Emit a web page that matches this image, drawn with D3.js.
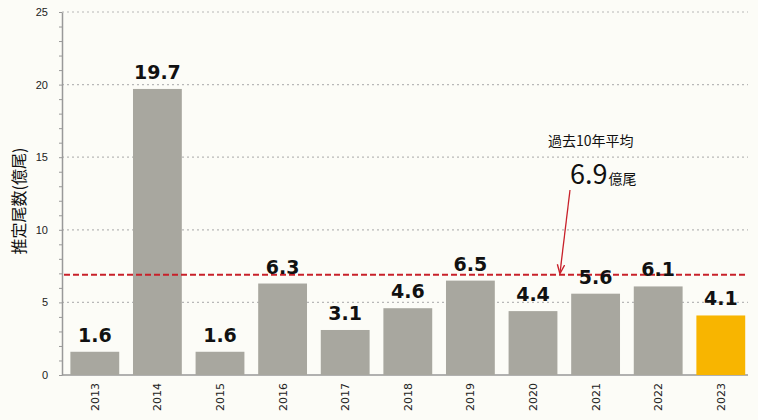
<!DOCTYPE html>
<html lang="ja">
<head>
    <meta charset="UTF-8">
    <title>推定尾数</title>
    <style>
        body { margin: 0; background: #fcfcf7; }
        svg { display: block; font-family: "DejaVu Sans", sans-serif; }
        .grid line { stroke: #b8b8b8; stroke-width: 1.2; stroke-dasharray: 2 3; }
        .bar-label { font-weight: bold; font-size: 19px; fill: #111; text-anchor: middle; }
        .tick text { fill: #222; }
    </style>
</head>
<body>
    <svg width="758" height="420"></svg>
    <script src="https://d3js.org/d3.v7.min.js"></script>
    <script>
        const years = ["2013", "2014", "2015", "2016", "2017", "2018", "2019", "2020", "2021", "2022", "2023"];
        const counts = [1.6, 19.7, 1.6, 6.3, 3.1, 4.6, 6.5, 4.4, 5.6, 6.1, 4.1];
        const yTicks = [0, 5, 10, 15, 20, 25];
        const average = 6.9;

        const svg = d3.select("svg");
        const plotLeft = 62, plotRight = 748, plotTop = 12, plotBottom = 375;

        const x = d3.scaleBand()
            .domain(years)
            .range([plotLeft, 753.6])
            .paddingInner(0.22)
            .paddingOuter(0.134);

        const y = d3.scaleLinear()
            .domain([0, 25])
            .range([plotBottom, plotTop]);

        // dotted gridlines
        svg.append("g")
            .attr("class", "grid")
            .selectAll("line")
            .data(yTicks.slice(1))
            .enter()
            .append("line")
            .attr("x1", plotLeft)
            .attr("x2", plotRight)
            .attr("y1", d => y(d))
            .attr("y2", d => y(d));

        // minor ticks on the y axis
        svg.append("g")
            .attr("transform", `translate(${plotLeft},0)`)
            .call(d3.axisLeft(y).ticks(25).tickSize(3).tickFormat(""))
            .call(g => g.select(".domain").remove())
            .selectAll("line").attr("stroke", "#999");

        // y axis
        svg.append("g")
            .attr("transform", `translate(${plotLeft},0)`)
            .call(d3.axisLeft(y).tickValues(yTicks).tickSize(0).tickPadding(14))
            .call(g => g.select(".domain").attr("stroke", "#999").attr("stroke-width", 1.5))
            .selectAll("text")
            .attr("font-size", 11)
            .attr("font-family", "Liberation Sans, sans-serif");

        // baseline
        svg.append("line")
            .attr("x1", plotLeft)
            .attr("x2", plotRight)
            .attr("y1", y(0))
            .attr("y2", y(0))
            .attr("stroke", "#999")
            .attr("stroke-width", 1.5);

        // bars
        svg.selectAll(".bar")
            .data(counts)
            .enter()
            .append("rect")
            .attr("class", "bar")
            .attr("x", (d, i) => x(years[i]))
            .attr("y", d => y(d))
            .attr("width", x.bandwidth())
            .attr("height", d => y(0) - y(d))
            .attr("fill", (d, i) => i === years.length - 1 ? "#f8b500" : "#a8a79f");

        // average line
        svg.append("line")
            .attr("x1", plotLeft + 2)
            .attr("x2", plotRight)
            .attr("y1", y(average))
            .attr("y2", y(average))
            .attr("stroke", "#c8202a")
            .attr("stroke-width", 2)
            .attr("stroke-dasharray", "6 3");

        // value labels
        svg.selectAll(".bar-label")
            .data(counts)
            .enter()
            .append("text")
            .attr("class", "bar-label")
            .attr("x", (d, i) => x(years[i]) + x.bandwidth() / 2)
            .attr("y", d => y(d) - 10)
            .text(d => d.toFixed(1));

        // year labels
        svg.selectAll(".year")
            .data(years)
            .enter()
            .append("text")
            .attr("class", "year")
            .attr("transform", d => `translate(${x(d) + x.bandwidth() / 2 + 4},${plotBottom + 8}) rotate(-90)`)
            .attr("text-anchor", "end")
            .attr("font-size", 11)
            .attr("fill", "#222")
            .text(d => d);

        // y axis title
        svg.append("text")
            .attr("transform", "translate(25,201) rotate(-90)")
            .attr("text-anchor", "middle")
            .attr("font-size", 16)
            .attr("font-family", "Noto Sans CJK JP, sans-serif")
            .attr("fill", "#111")
            .text("推定尾数(億尾)");

        // annotation
        svg.append("text")
            .attr("x", 548)
            .attr("y", 146)
            .attr("font-size", 14)
            .attr("font-family", "Noto Sans CJK JP, sans-serif")
            .attr("fill", "#111")
            .text("過去10年平均");

        const ann = svg.append("text")
            .attr("x", 570)
            .attr("y", 184)
            .attr("font-family", "Noto Sans CJK JP, sans-serif")
            .attr("fill", "#111");
        ann.append("tspan").attr("font-size", 27).text(average.toFixed(1));
        ann.append("tspan").attr("font-size", 14).attr("dx", 1).text("億尾");

        svg.append("defs").append("marker")
            .attr("id", "arrow")
            .attr("viewBox", "0 0 10 10")
            .attr("refX", 9)
            .attr("refY", 5)
            .attr("markerWidth", 7)
            .attr("markerHeight", 7)
            .attr("orient", "auto")
            .append("path")
            .attr("d", "M0,1 L10,5 L0,9")
            .attr("fill", "none")
            .attr("stroke", "#c8202a")
            .attr("stroke-width", 1.5);

        svg.append("line")
            .attr("x1", 570)
            .attr("y1", 190)
            .attr("x2", 560)
            .attr("y2", y(average) - 2)
            .attr("stroke", "#c8202a")
            .attr("stroke-width", 1.3)
            .attr("marker-end", "url(#arrow)");
    </script>
</body>
</html>
